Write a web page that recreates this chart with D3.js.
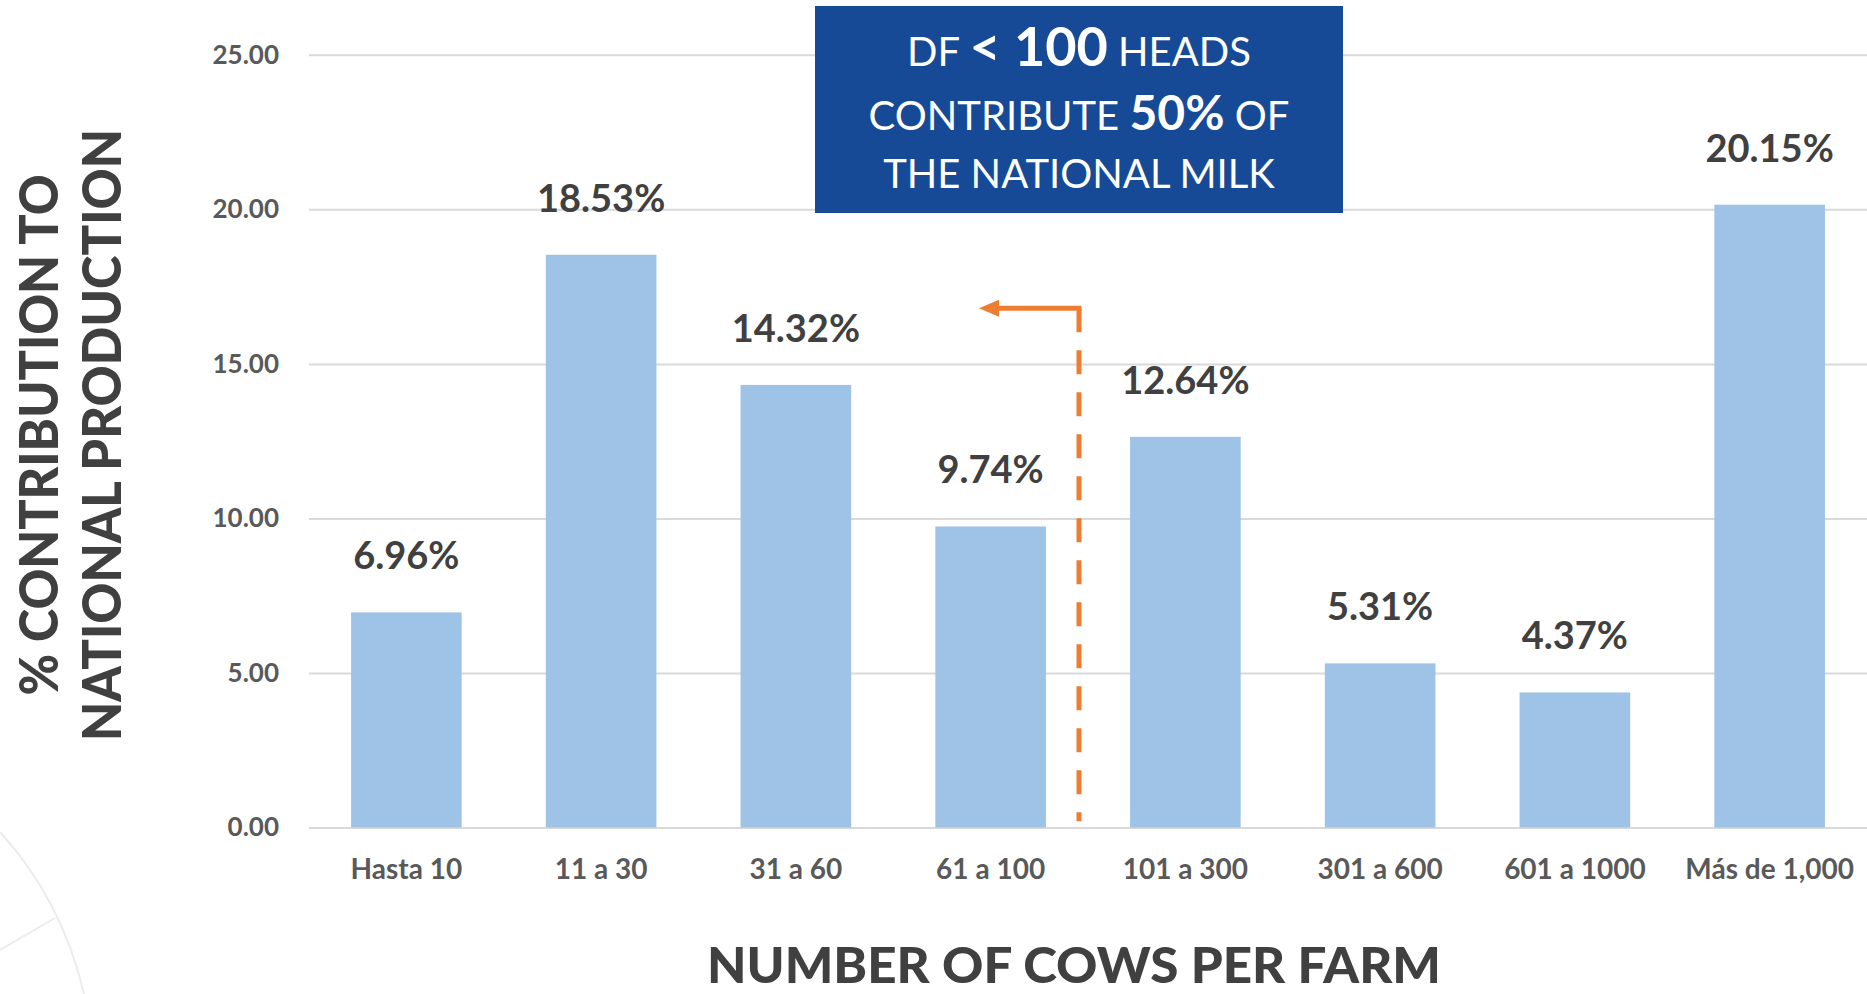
<!DOCTYPE html>
<html><head><meta charset="utf-8">
<script src="https://cdn.jsdelivr.net/npm/d3@7"></script>
<style>html,body{margin:0;padding:0;background:#fff;}svg{display:block;}</style>
</head><body>
<svg id="chart" width="1867" height="994"></svg>
<script>
const categories = ["Hasta 10","11 a 30","31 a 60","61 a 100","101 a 300","301 a 600","601 a 1000","Más de 1,000"];
const values = [6.96, 18.53, 14.32, 9.74, 12.64, 5.31, 4.37, 20.15];
const yTicks = [0, 5, 10, 15, 20, 25];
const labelText = values.map(v => v.toFixed(2) + "%");
const yTitle = ["% CONTRIBUTION TO", "NATIONAL PRODUCTION"];
const xTitle = "NUMBER OF COWS PER FARM";
const arrowLevel = 16.8;   // value where the orange arrow turns

const W = 1867, H = 994;
const svg = d3.select("#chart");
svg.append("rect").attr("width", W).attr("height", H).attr("fill", "#fff");

// faint background decoration
svg.append("path").attr("d", "M0,832 Q62,900 84,994").attr("fill","none").attr("stroke","#ececec").attr("stroke-width",2);
svg.append("path").attr("d", "M0,950 L55,918").attr("fill","none").attr("stroke","#ececec").attr("stroke-width",2);

const plot = {left: 309, right: 1867, top: 54.8, bottom: 827.5};
const x = d3.scaleBand().domain(categories).range([plot.left, plot.right]).paddingInner(0.432).paddingOuter(0.216);
const y = d3.scaleLinear().domain([0, 25]).range([plot.bottom, plot.top]);

// gridlines + y labels
const yAxis = d3.axisLeft(y).tickValues(yTicks).tickFormat(d3.format(".2f")).tickSize(-(plot.right - plot.left)).tickPadding(30);
const gy = svg.append("g").attr("transform", `translate(${plot.left},0)`).call(yAxis);
gy.select(".domain").remove();
gy.selectAll(".tick line").attr("stroke", "#d9d9d9").attr("stroke-width", 2);
gy.selectAll(".tick text").attr("fill", "#595959").attr("font-family", "Lato, sans-serif").attr("font-weight", "bold").attr("font-size", 26);

// bars
svg.append("g").selectAll("rect").data(values).join("rect")
  .attr("x", (d, i) => x(categories[i]))
  .attr("width", x.bandwidth())
  .attr("y", d => y(d))
  .attr("height", d => y(0) - y(d))
  .attr("fill", "#9fc3e7");

// value labels
svg.append("g").selectAll("text").data(values).join("text")
  .attr("x", (d, i) => x(categories[i]) + x.bandwidth() / 2)
  .attr("y", d => y(d) - 43)
  .attr("text-anchor", "middle")
  .attr("font-family", "Lato, sans-serif").attr("font-weight", "bold").attr("font-size", 38)
  .attr("fill", "#404040")
  .text((d, i) => labelText[i]);

// x axis labels
const xAxis = d3.axisBottom(x).tickSize(0).tickPadding(0);
const gx = svg.append("g").attr("transform", `translate(0,${plot.bottom})`).call(xAxis);
gx.select(".domain").remove();
gx.selectAll(".tick text").attr("dy", null).attr("y", 51)
  .attr("fill", "#595959").attr("font-family", "Lato, sans-serif").attr("font-weight", "bold").attr("font-size", 28);

// x title
svg.append("text").attr("x", 1074).attr("y", 983).attr("text-anchor", "middle")
  .attr("font-family", "Lato, sans-serif").attr("font-weight", "900").attr("font-size", 50)
  .attr("fill", "#404040").attr("textLength", 734).attr("lengthAdjust", "spacingAndGlyphs")
  .text(xTitle);

// y title
const yt = svg.append("g").attr("transform", "translate(0,435) rotate(-90)");
const yLens = [521, 612];
const yBase = [58, 121];
yTitle.forEach((t, i) => {
  yt.append("text").attr("x", 0).attr("y", yBase[i]).attr("text-anchor", "middle")
    .attr("font-family", "Lato, sans-serif").attr("font-weight", "900").attr("font-size", 54)
    .attr("fill", "#404040").attr("textLength", yLens[i]).attr("lengthAdjust", "spacingAndGlyphs")
    .text(t);
});

// orange annotation
const gapMid = (x("61 a 100") + x.bandwidth() + x("101 a 300")) / 2;
const lx = gapMid - 9;
const ay = y(arrowLevel);
svg.append("path").attr("d", `M${lx},${ay} L${lx},${y(0.2)}`)
  .attr("stroke", "#ed7d31").attr("stroke-width", 5).attr("fill", "none").attr("stroke-dasharray", "24,18");
svg.append("path").attr("d", `M${lx + 2.5},${ay} L${lx - 84},${ay}`)
  .attr("stroke", "#ed7d31").attr("stroke-width", 5).attr("fill", "none");
svg.append("path").attr("d", `M${lx - 100},${ay} L${lx - 80},${ay - 8.5} L${lx - 80},${ay + 8.5} Z`)
  .attr("fill", "#ed7d31");

// blue callout box
const bx = 815, by = 6, bw = 528, bh = 207;
svg.append("rect").attr("x", bx).attr("y", by).attr("width", bw).attr("height", bh).attr("fill", "#164a96");
const cx = bx + bw / 2;
const boxFont = "Lato, sans-serif";
const l1 = svg.append("text").attr("x", cx).attr("y", 66).attr("text-anchor", "middle").attr("fill", "#fff").attr("font-family", boxFont).attr("font-size", 40);
l1.append("tspan").text("DF ");
l1.append("tspan").attr("font-weight", "bold").attr("font-size", 54).text("< 100");
l1.append("tspan").text(" HEADS");
const l2 = svg.append("text").attr("x", cx).attr("y", 130).attr("text-anchor", "middle").attr("fill", "#fff").attr("font-family", boxFont).attr("font-size", 40);
l2.append("tspan").text("CONTRIBUTE ");
l2.append("tspan").attr("font-weight", "bold").attr("font-size", 48).text("50%");
l2.append("tspan").text(" OF");
svg.append("text").attr("x", cx).attr("y", 188).attr("text-anchor", "middle").attr("fill", "#fff").attr("font-family", boxFont).attr("font-size", 40).text("THE NATIONAL MILK");
</script>
</body></html>
